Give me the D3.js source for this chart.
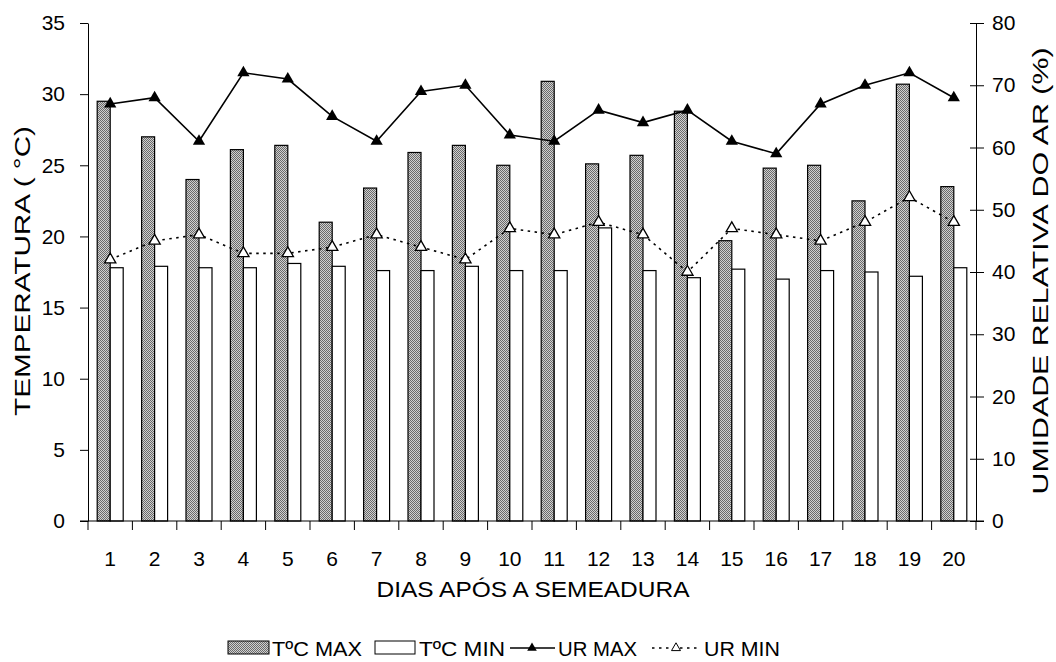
<!DOCTYPE html>
<html><head><meta charset="utf-8">
<script src="https://cdn.jsdelivr.net/npm/d3@7"></script>
<style>body{margin:0;background:#fff}svg{display:block}text{font-family:"Liberation Sans",Arial,sans-serif;fill:#000}</style>
</head><body><svg id="c" width="1056" height="662"></svg>
<script>
const days = ["1","2","3","4","5","6","7","8","9","10","11","12","13","14","15","16","17","18","19","20"];
const tMax = [29.5,27.0,24.0,26.1,26.4,21.0,23.4,25.9,26.4,25.0,30.9,25.1,25.7,28.8,19.7,24.8,25.0,22.5,30.7,23.5];
const tMin = [17.8,17.9,17.8,17.8,18.1,17.9,17.6,17.6,17.9,17.6,17.6,20.6,17.6,17.1,17.7,17.0,17.6,17.5,17.2,17.8];
const urMax = [67,68,61,72,71,65,61,69,70,62,61,66,64,66,61,59,67,70,72,68];
const urMin = [42,45,46,43,43,44,46,44,42,47,46,48,46,40,47,46,45,48,52,48];
const leftTicks = [0,5,10,15,20,25,30,35];
const rightTicks = [0,10,20,30,40,50,60,70,80];

const svg = d3.select("#c");
const L = 88, R = 976, T = 23, B = 521;
const FS = "21px";
const x = d3.scaleBand().domain(days).range([L, R]);
const yL = d3.scaleLinear().domain([0,35]).range([B, T]);
const yR = d3.scaleLinear().domain([0,80]).range([B, T]);

const defs = svg.append("defs");
const pat = defs.append("pattern").attr("id","chk").attr("width",2).attr("height",2).attr("patternUnits","userSpaceOnUse");
pat.append("rect").attr("width",2).attr("height",2).attr("fill","#d0d0d0");
pat.append("rect").attr("width",1).attr("height",1).attr("fill","#6a6a6a");
pat.append("rect").attr("x",1).attr("y",1).attr("width",1).attr("height",1).attr("fill","#6a6a6a");

const bw = 13;
svg.append("g").selectAll("rect").data(days).join("rect")
  .attr("x", d => x(d) + x.bandwidth()/2 - bw)
  .attr("y", (d,i) => yL(tMax[i]))
  .attr("width", bw).attr("height", (d,i) => B - yL(tMax[i]))
  .attr("fill","url(#chk)").attr("stroke","#000").attr("stroke-width",1.2);
svg.append("g").selectAll("rect").data(days).join("rect")
  .attr("x", d => x(d) + x.bandwidth()/2)
  .attr("y", (d,i) => yL(tMin[i]))
  .attr("width", bw).attr("height", (d,i) => B - yL(tMin[i]))
  .attr("fill","#fff").attr("stroke","#000").attr("stroke-width",1.2);

// axes
const gx = svg.append("g").attr("transform",`translate(0,${B})`)
  .call(d3.axisBottom(x).tickSize(0).tickPadding(30));
gx.select(".domain").remove();
gx.selectAll("text").style("font-size",FS).attr("font-family","Liberation Sans, Arial, sans-serif");
svg.append("line").attr("x1",80).attr("x2",984).attr("y1",B).attr("y2",B).attr("stroke","#000").attr("stroke-width",1);
const bounds = days.map(d => x(d)).concat([R]);
svg.append("g").selectAll("line").data(bounds).join("line")
  .attr("x1", d=>d).attr("x2", d=>d).attr("y1", B).attr("y2", B+9)
  .attr("stroke","#000").attr("stroke-width",1);

const gl = svg.append("g").attr("transform",`translate(${L},0)`)
  .call(d3.axisLeft(yL).tickValues(leftTicks).tickSize(8).tickPadding(15).tickSizeOuter(0));
gl.selectAll("text").style("font-size",FS).attr("font-family","Liberation Sans, Arial, sans-serif");
const gr = svg.append("g").attr("transform",`translate(${R},0)`)
  .call(d3.axisRight(yR).tickValues(rightTicks).tickSize(8).tickPadding(8).tickSizeOuter(0));
gr.selectAll("text").style("font-size",FS).attr("font-family","Liberation Sans, Arial, sans-serif");
gr.selectAll(".tick line").attr("x1",-6);

// lines
const cx = d => x(d) + x.bandwidth()/2;
const ln = d3.line().x((d,i)=>cx(days[i])).y(d=>yR(d));
svg.append("path").datum(urMax).attr("d", ln).attr("fill","none").attr("stroke","#000").attr("stroke-width",1.6);
svg.append("path").datum(urMin).attr("d", ln).attr("fill","none").attr("stroke","#000").attr("stroke-width",1.6).attr("stroke-dasharray","2.5,4.5");
const tri = d3.symbol().type(d3.symbolTriangle);
svg.append("g").selectAll("path").data(urMax).join("path")
  .attr("d", tri.size(65)()).attr("transform",(d,i)=>`translate(${cx(days[i])},${yR(d)})`).attr("fill","#000");
svg.append("g").selectAll("path").data(urMin).join("path")
  .attr("d", tri.size(55)()).attr("transform",(d,i)=>`translate(${cx(days[i])},${yR(d)})`).attr("fill","#fff").attr("stroke","#000").attr("stroke-width",1.3);

// titles
svg.append("text").attr("x",533).attr("y",597).attr("text-anchor","middle").style("font-size","22px")
  .attr("textLength",313).attr("lengthAdjust","spacingAndGlyphs").text("DIAS APÓS A SEMEADURA");
svg.append("text").attr("transform","translate(30,271) rotate(-90)").attr("text-anchor","middle").style("font-size","22px")
  .attr("textLength",290).attr("lengthAdjust","spacingAndGlyphs").text("TEMPERATURA ( °C)");
svg.append("text").attr("transform","translate(1048,271) rotate(-90)").attr("text-anchor","middle").style("font-size","22px")
  .attr("textLength",447).attr("lengthAdjust","spacingAndGlyphs").text("UMIDADE RELATIVA DO AR (%)");

// legend
const ly = 656;
const lg = svg.append("g");
lg.append("rect").attr("x",228).attr("y",ly-15).attr("width",41).attr("height",13).attr("fill","url(#chk)").attr("stroke","#000");
lg.append("text").attr("x",272).attr("y",ly).style("font-size",FS).attr("textLength",90).attr("lengthAdjust","spacingAndGlyphs").text("TºC MAX");
lg.append("rect").attr("x",375).attr("y",ly-15).attr("width",40).attr("height",13).attr("fill","#fff").attr("stroke","#000");
lg.append("text").attr("x",419).attr("y",ly).style("font-size",FS).attr("textLength",86).attr("lengthAdjust","spacingAndGlyphs").text("TºC MIN");
lg.append("line").attr("x1",510).attr("x2",555).attr("y1",ly-8).attr("y2",ly-8).attr("stroke","#000").attr("stroke-width",1.5);
lg.append("path").attr("d",tri.size(40)()).attr("transform",`translate(532,${ly-8})`).attr("fill","#000");
lg.append("text").attr("x",558).attr("y",ly).style("font-size",FS).attr("textLength",79).attr("lengthAdjust","spacingAndGlyphs").text("UR MAX");
lg.append("line").attr("x1",652).attr("x2",700).attr("y1",ly-8).attr("y2",ly-8).attr("stroke","#000").attr("stroke-width",1.5).attr("stroke-dasharray","2.5,4.5");
lg.append("path").attr("d",tri.size(35)()).attr("transform",`translate(676,${ly-8})`).attr("fill","#fff").attr("stroke","#000");
lg.append("text").attr("x",704).attr("y",ly).style("font-size",FS).attr("textLength",76).attr("lengthAdjust","spacingAndGlyphs").text("UR MIN");
</script></body></html>
